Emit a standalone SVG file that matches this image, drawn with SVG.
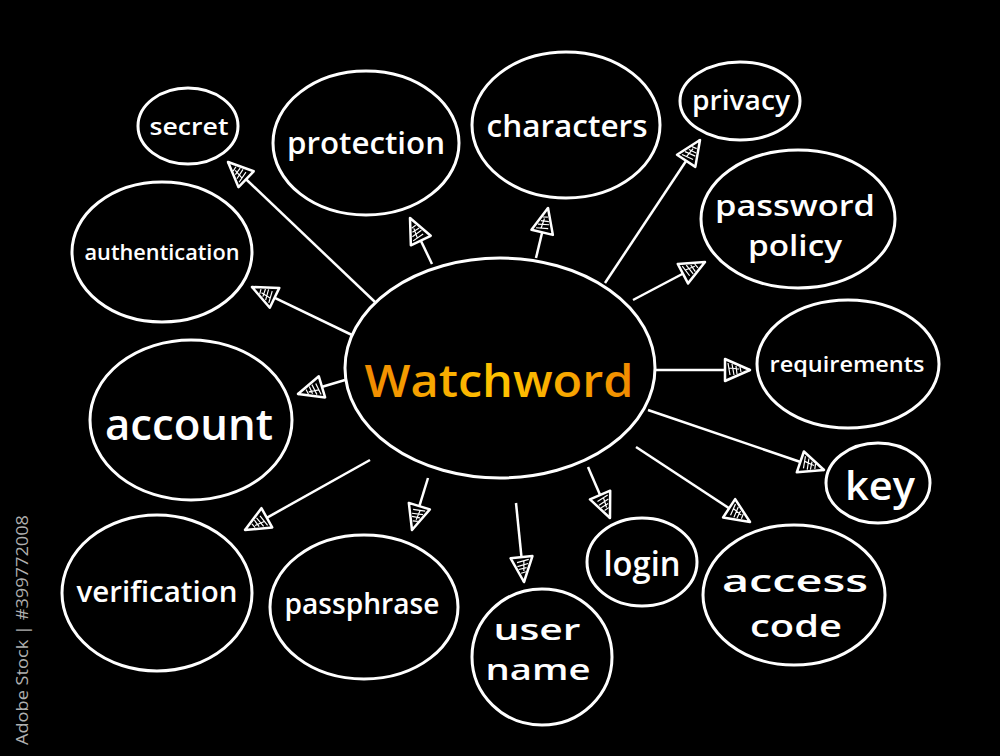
<svg xmlns="http://www.w3.org/2000/svg" width="1000" height="756" viewBox="0 0 1000 756">
<defs>
<style>
.n{fill:#000;stroke:#fff;stroke-width:3}
.t{fill:#fff;font-family:"Open Sans","DejaVu Sans",sans-serif;font-weight:600;text-anchor:middle}
.c line{stroke:#fff;stroke-width:2.5}
</style>
<linearGradient id="og" x1="0" y1="0" x2="1" y2="0">
<stop offset="0" stop-color="#f08a00"/>
<stop offset="0.5" stop-color="#ffc400"/>
<stop offset="1" stop-color="#f08a00"/>
</linearGradient>
<marker id="ah" markerUnits="userSpaceOnUse" markerWidth="30" markerHeight="28" viewBox="-2 -14 30 28" refX="25" refY="0" orient="auto">
<path d="M0,-11 L25,0 L0,11 Z" fill="#000" stroke="#fff" stroke-width="2.5" stroke-linejoin="round"/>
<path d="M3,-7 L5,5 M7,-6 L9,5 M11,-4 L12,4 M15,-3 L16,2 M4,-2 L14,-1" stroke="#fff" stroke-width="1.2" fill="none"/>
</marker>
</defs>
<rect width="1000" height="756" fill="#000"/>
<text transform="translate(28,745) rotate(-90)" font-family="'Open Sans','DejaVu Sans',sans-serif" font-size="17" fill="#b0b0b0" textLength="230" lengthAdjust="spacingAndGlyphs">Adobe Stock | #399772008</text>
<g class="c" id="connectors">
<line x1="375" y1="302" x2="228" y2="162" marker-end="url(#ah)"/>
<line x1="352" y1="335" x2="252" y2="287" marker-end="url(#ah)"/>
<line x1="432" y1="264" x2="410" y2="218" marker-end="url(#ah)"/>
<line x1="536" y1="258" x2="548" y2="208" marker-end="url(#ah)"/>
<line x1="605" y1="283" x2="700" y2="140" marker-end="url(#ah)"/>
<line x1="633" y1="300" x2="705" y2="262" marker-end="url(#ah)"/>
<line x1="655" y1="370" x2="750" y2="370" marker-end="url(#ah)"/>
<line x1="345" y1="380" x2="298" y2="394" marker-end="url(#ah)"/>
<line x1="648" y1="410" x2="824" y2="470" marker-end="url(#ah)"/>
<line x1="636" y1="447" x2="750" y2="522" marker-end="url(#ah)"/>
<line x1="588" y1="467" x2="610" y2="518" marker-end="url(#ah)"/>
<line x1="516" y1="503" x2="524" y2="582" marker-end="url(#ah)"/>
<line x1="428" y1="478" x2="412" y2="530" marker-end="url(#ah)"/>
<line x1="370" y1="460" x2="245" y2="530" marker-end="url(#ah)"/>
</g>
<g id="center">
<ellipse class="n" cx="500" cy="368" rx="155" ry="110" stroke-width="4"/>
<text x="499" y="397" font-family="'Open Sans','DejaVu Sans',sans-serif" font-weight="600" font-size="46" fill="url(#og)" text-anchor="middle" textLength="269" lengthAdjust="spacingAndGlyphs">Watchword</text>
</g>
<g id="secret"><ellipse class="n" cx="188" cy="126" rx="50" ry="38"/><text class="t" x="189" y="135" font-size="23" textLength="79" lengthAdjust="spacingAndGlyphs">secret</text></g>
<g id="protection"><ellipse class="n" cx="366" cy="143" rx="93" ry="72"/><text class="t" x="366" y="154" font-size="31" textLength="158" lengthAdjust="spacingAndGlyphs">protection</text></g>
<g id="characters"><ellipse class="n" cx="566" cy="125" rx="94" ry="73"/><text class="t" x="567" y="137" font-size="31" textLength="161" lengthAdjust="spacingAndGlyphs">characters</text></g>
<g id="privacy"><ellipse class="n" cx="740" cy="101" rx="60" ry="39"/><text class="t" x="741" y="110" font-size="27" textLength="98" lengthAdjust="spacingAndGlyphs">privacy</text></g>
<g id="password-policy"><ellipse class="n" cx="798" cy="219" rx="97" ry="69"/><text class="t" x="795" y="216" font-size="28" textLength="160" lengthAdjust="spacingAndGlyphs">password</text><text class="t" x="795" y="256" font-size="28" textLength="94" lengthAdjust="spacingAndGlyphs">policy</text></g>
<g id="authentication"><ellipse class="n" cx="162" cy="252" rx="90" ry="70"/><text class="t" x="162" y="260" font-size="22" textLength="155" lengthAdjust="spacingAndGlyphs">authentication</text></g>
<g id="requirements"><ellipse class="n" cx="848" cy="364" rx="91" ry="64"/><text class="t" x="847" y="372" font-size="22" textLength="155" lengthAdjust="spacingAndGlyphs">requirements</text></g>
<g id="account"><ellipse class="n" cx="191" cy="420" rx="101" ry="80"/><text class="t" x="189" y="440" font-size="44" textLength="168" lengthAdjust="spacingAndGlyphs">account</text></g>
<g id="key"><ellipse class="n" cx="878" cy="483" rx="52" ry="40"/><text class="t" x="880" y="500" font-size="40" textLength="70" lengthAdjust="spacingAndGlyphs">key</text></g>
<g id="access-code"><ellipse class="n" cx="794" cy="595" rx="91" ry="70"/><text class="t" x="795" y="592" font-size="31" textLength="146" lengthAdjust="spacingAndGlyphs">access</text><text class="t" x="796" y="637" font-size="31" textLength="92" lengthAdjust="spacingAndGlyphs">code</text></g>
<g id="login"><ellipse class="n" cx="642" cy="562" rx="55" ry="44"/><text class="t" x="642" y="576" font-size="34" textLength="77" lengthAdjust="spacingAndGlyphs">login</text></g>
<g id="user-name"><ellipse class="n" cx="542" cy="657" rx="70" ry="68"/><text class="t" x="537" y="640" font-size="28" textLength="87" lengthAdjust="spacingAndGlyphs">user</text><text class="t" x="538" y="680" font-size="28" textLength="105" lengthAdjust="spacingAndGlyphs">name</text></g>
<g id="passphrase"><ellipse class="n" cx="364" cy="607" rx="94" ry="72"/><text class="t" x="362" y="614" font-size="29" textLength="155" lengthAdjust="spacingAndGlyphs">passphrase</text></g>
<g id="verification"><ellipse class="n" cx="157" cy="593" rx="95" ry="78"/><text class="t" x="157" y="602" font-size="28" textLength="161" lengthAdjust="spacingAndGlyphs">verification</text></g>
</svg>
